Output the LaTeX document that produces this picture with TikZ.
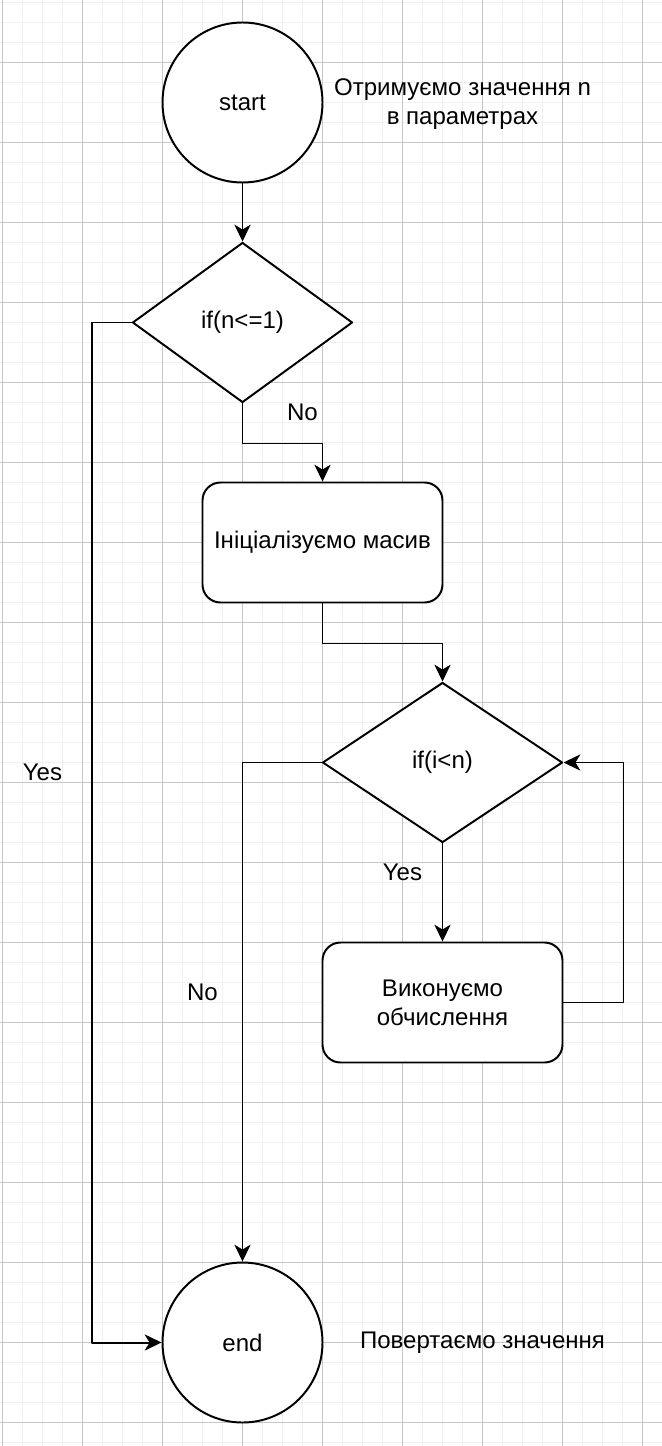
\documentclass[tikz,border=0pt]{standalone}
\usepackage{fontspec}
\setmainfont{Liberation Sans}
\usetikzlibrary{shapes.geometric, arrows.meta}
\tikzset{every text node part/.style={align=center}}
\tikzset{terminal/.style = {draw, thick, circle, minimum size=4cm, inner sep=0pt}}
\tikzset{decision/.style = {draw, thick, diamond, inner sep=0pt, minimum height=4cm}}
\tikzset{process/.style = {draw, thick, rectangle, rounded corners=0.45cm,
						 minimum width=6cm, minimum height=3cm, inner sep=0pt}}
\tikzset{flow/.style = {thick, -{Stealth[length=12pt, width=11.5pt, inset=3.5pt]}}}
\tikzset{thick/.style = {line width=1.4pt}}
\tikzset{minorgrid/.style = {line width=1.2pt, black!6}}
\tikzset{majorgrid/.style = {line width=0.7pt, black!22}}

\begin{document}
\begin{tikzpicture}[x=0.5cm, y=0.5cm, line join=round,
		font=\fontsize{17.1}{20.5}\selectfont]
		\useasboundingbox (-0.125,0.125) rectangle (32.975,-72.175);
		
		% Grid
		\foreach \i in {0,...,32}
			\draw[minorgrid] (\i,0.125) -- (\i,-72.175);
		\foreach \i in {0,...,72}
			\draw[minorgrid] (-0.125,-\i) -- (32.975,-\i);
		\foreach \i in {0,4,...,32}
			\draw[majorgrid] (\i,0.125) -- (\i,-72.175);
		\foreach \i in {3,7,...,71}
			\draw[majorgrid] (-0.125,-\i) -- (32.975,-\i);
		
		% Nodes
		\node[terminal, fill=white] (start) at (12,-5) {start};
		\node[decision, fill=white, minimum width=5.5cm] (check n) at (12,-16) {if(n<=1)};
		\node[process, fill=white] (init) at (16,-27) {Ініціалізуємо масив};
		\node[decision, fill=white, minimum width=6cm] (check i) at (22,-38) {if(i<n)};
		\node[process, fill=white] (calc) at (22,-50) {Виконуємо\\обчислення};
		\node[terminal, fill=white] (end) at (12,-67) {end};
		%
		\node (get n) at (23,-5.1) {Отримуємо значення n\\в параметрах};
		\node (return) at (24,-67) {Повертаємо значення};
		
		% Arrows
		\draw[flow] (start) -- (check n);
		%% n<=1
		\draw[flow] (check n.west) -- ++(-2,0) |- (end.west);
		\draw[flow] (check n.south) -- ++(0,-2) -| (init.north);
		%% Loop
		\draw[flow] (init.south) -- ++(0,-2) -| (check i.north);
		\draw[flow] (check i.south) -- (calc.north);
		\draw[flow] (calc.east) -- ++(3,0) |- (check i.east);
		\draw[flow] (check i.west) -| (end.north);
		
		% Labels
		\node at (2,-38.5) {Yes};
		\node at (15,-20.5) {No};
		\node at (20,-43.5) {Yes};
		\node at (10,-49.5) {No};
	\end{tikzpicture}
\end{document}
